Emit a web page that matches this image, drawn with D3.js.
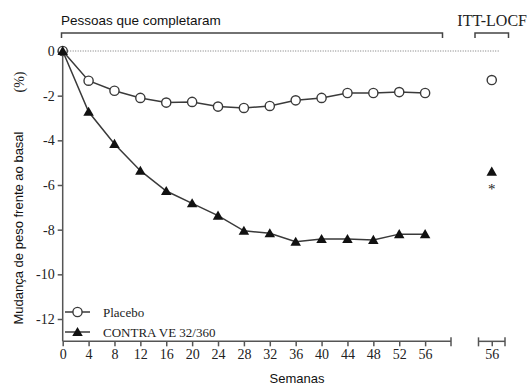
<!DOCTYPE html>
<html><head><meta charset="utf-8">
<script src="https://cdn.jsdelivr.net/npm/d3@7"></script>
<style>body{margin:0;background:#fff}</style>
</head><body>
<svg id="c" width="529" height="385"></svg>
<script>
const weeks = [0,4,8,12,16,20,24,28,32,36,40,44,48,52,56];
const placebo = [0,-1.33,-1.78,-2.1,-2.31,-2.28,-2.49,-2.55,-2.46,-2.21,-2.1,-1.88,-1.88,-1.84,-1.88];
const contrave = [0,-2.72,-4.16,-5.36,-6.27,-6.82,-7.37,-8.05,-8.16,-8.54,-8.42,-8.42,-8.46,-8.2,-8.2];
const ittWeek = 56;
const ittPlacebo = -1.3;
const ittContrave = -5.4;
const yTicks = [0,-2,-4,-6,-8,-10,-12];
const xTicks = [0,4,8,12,16,20,24,28,32,36,40,44,48,52,56];
const seriesNames = ["Placebo","CONTRA VE 32/360"];

const svg = d3.select("#c");
const x = d3.scaleLinear().domain([0,60]).range([62.7,451]);
const x2 = d3.scaleLinear().domain([54,58]).range([478.5,505]);
const y = d3.scaleLinear().domain([0,-12]).range([51,319]);
const yBottom = y(-13.0);
const axCol = "#555", lnCol = "#3a3a3a";
const serif = "'Liberation Serif','Times New Roman',serif";
const sans = "'Liberation Sans',Arial,sans-serif";

// zero dotted line
svg.append("line").attr("x1",x(0)).attr("x2",500).attr("y1",y(0)).attr("y2",y(0))
  .attr("stroke","#777").attr("stroke-width",1).attr("stroke-dasharray","1,1.5");

function styleTicks(g){
  g.selectAll(".tick line").attr("stroke",axCol).attr("stroke-width",1.5);
  g.selectAll(".tick text").style("font-family",serif).style("font-size","14px").attr("fill","#222");
}

// y axis
const ya = svg.append("g").attr("transform",`translate(${x(0)},0)`)
  .call(d3.axisLeft(y).tickValues(yTicks).tickSize(5).tickPadding(3).tickFormat(d=>d===0?"0":"-"+Math.abs(d)));
ya.select(".domain").remove();
ya.append("line").attr("x1",0).attr("x2",0).attr("y1",y(0)-3).attr("y2",yBottom).attr("stroke",axCol).attr("stroke-width",1.5);
styleTicks(ya);

// x axis main
const xa = svg.append("g").attr("transform",`translate(0,${yBottom})`)
  .call(d3.axisBottom(x).tickValues(xTicks).tickSize(5).tickPadding(3).tickFormat(d3.format("d")));
xa.select(".domain").remove();
xa.append("line").attr("x1",x(0)).attr("x2",x(60)).attr("y1",0).attr("y2",0).attr("stroke",axCol).attr("stroke-width",1.5);
xa.append("line").attr("x1",x(60)).attr("x2",x(60)).attr("y1",-4).attr("y2",5).attr("stroke",axCol).attr("stroke-width",1.5);
styleTicks(xa);

// x axis ITT
const xb = svg.append("g").attr("transform",`translate(0,${yBottom})`)
  .call(d3.axisBottom(x2).tickValues([ittWeek]).tickSize(5).tickPadding(3).tickFormat(d3.format("d")));
xb.select(".domain").remove();
xb.append("line").attr("x1",x2(54)).attr("x2",x2(58)).attr("y1",0).attr("y2",0).attr("stroke",axCol).attr("stroke-width",1.5);
[54,58].forEach(v=>xb.append("line").attr("x1",x2(v)).attr("x2",x2(v)).attr("y1",-4).attr("y2",5).attr("stroke",axCol).attr("stroke-width",1.5));
styleTicks(xb);

// brackets
function bracket(x1,x2b){
  svg.append("path").attr("d",`M${x1},38V33H${x2b}V38`).attr("fill","none").attr("stroke","#444").attr("stroke-width",1.5);
}
bracket(61.5,442.5);
bracket(475,508.5);
svg.append("text").attr("x",61).attr("y",25).style("font-family",sans).style("font-size","13.5px").attr("fill","#111").text("Pessoas que completaram");
svg.append("text").attr("x",527).attr("y",26).attr("text-anchor","end").style("font-family",serif).style("font-size","16px").attr("fill","#222").text("ITT-LOCF");

// lines
const line = d3.line().x((d,i)=>x(weeks[i])).y(d=>y(d));
svg.append("path").datum(placebo).attr("d",line).attr("fill","none").attr("stroke",lnCol).attr("stroke-width",1.5);
svg.append("path").datum(contrave).attr("d",line).attr("fill","none").attr("stroke",lnCol).attr("stroke-width",1.5);

const tri = d3.symbol().type(d3.symbolTriangle).size(48);
svg.selectAll(".pc").data(placebo).join("circle").attr("cx",(d,i)=>x(weeks[i])).attr("cy",d=>y(d)).attr("r",4.6)
  .attr("fill","#fff").attr("stroke",lnCol).attr("stroke-width",1.4);
svg.selectAll(".ct").data(contrave).join("path").attr("d",tri)
  .attr("transform",(d,i)=>`translate(${x(weeks[i])},${y(d)+1})`).attr("fill","#111");

// ITT points
svg.append("circle").attr("cx",x2(ittWeek)).attr("cy",y(ittPlacebo)).attr("r",4.6).attr("fill","#fff").attr("stroke",lnCol).attr("stroke-width",1.4);
svg.append("path").attr("d",tri).attr("transform",`translate(${x2(ittWeek)},${y(ittContrave)+1})`).attr("fill","#111");
svg.append("text").attr("x",x2(ittWeek)).attr("y",y(ittContrave)+22).attr("text-anchor","middle").style("font-family",serif).style("font-size","15px").attr("fill","#222").text("*");

// legend
const lg = [{y:312,type:"c"},{y:332,type:"t"}];
lg.forEach((l,i)=>{
  svg.append("line").attr("x1",65).attr("x2",90).attr("y1",l.y).attr("y2",l.y).attr("stroke",lnCol).attr("stroke-width",1.5);
  if(l.type==="c") svg.append("circle").attr("cx",77.5).attr("cy",l.y).attr("r",4.6).attr("fill","#fff").attr("stroke",lnCol).attr("stroke-width",1.4);
  else svg.append("path").attr("d",tri).attr("transform",`translate(77.5,${l.y+1})`).attr("fill","#111");
  svg.append("text").attr("x",103).attr("y",l.y+4.5).style("font-family",serif).style("font-size","13px").attr("fill","#222").text(seriesNames[i]);
});

// axis titles
svg.append("text").attr("x",297).attr("y",383).attr("text-anchor","middle").style("font-family",sans).style("font-size","13px").attr("fill","#111").text("Semanas");
svg.append("text").attr("transform","translate(23,228) rotate(-90)").attr("text-anchor","middle").style("font-family",sans).style("font-size","13px").attr("fill","#111").text("Mudança de peso frente ao basal");
svg.append("text").attr("transform","translate(24,82) rotate(-90)").attr("text-anchor","middle").style("font-family",serif).style("font-size","14px").attr("fill","#222").text("(%)");
</script>
</body></html>
